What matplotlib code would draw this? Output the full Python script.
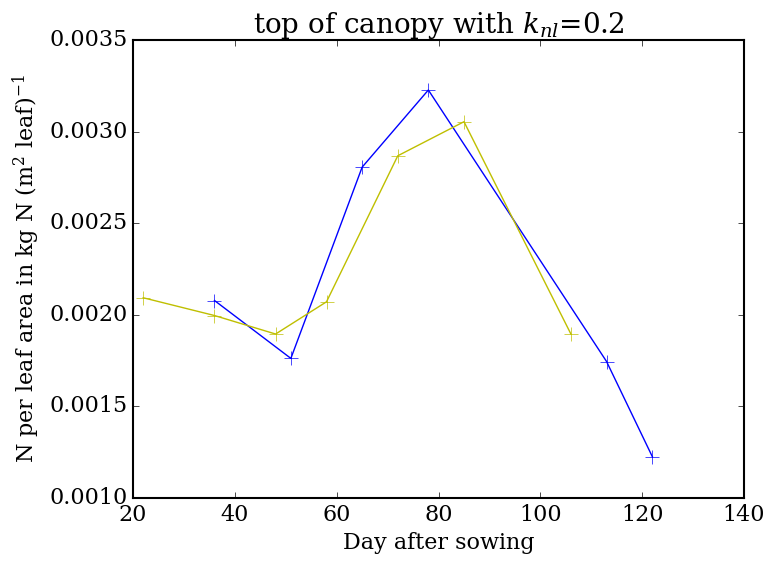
import matplotlib
matplotlib.use("Agg")
import matplotlib.pyplot as plt

plt.style.use("classic")
plt.rcParams["font.family"] = "DejaVu Serif"
plt.rcParams["mathtext.fontset"] = "dejavuserif"

# Measured N per leaf area at the top of the canopy
days_blue = [36, 51, 65, 78, 113, 122]
n_blue = [0.002078, 0.001762, 0.002806, 0.003227, 0.001745, 0.001225]

days_yellow = [22, 36, 48, 58, 72, 85, 106]
n_yellow = [0.002093, 0.001996, 0.001895, 0.002071, 0.002868, 0.003054, 0.001895]

x_ticks = [20, 40, 60, 80, 100, 120, 140]
y_ticks = [0.0010, 0.0015, 0.0020, 0.0025, 0.0030, 0.0035]

fig = plt.figure(figsize=(7.68, 5.65), dpi=100, facecolor="white")
ax = fig.add_axes([0.1732, 0.1186, 0.7956, 0.8106])

ax.plot(days_blue, n_blue, color="b", marker="+", markersize=10, linewidth=1)
ax.plot(days_yellow, n_yellow, color="y", marker="+", markersize=10, linewidth=1)

ax.set_xlim(20, 140)
ax.set_ylim(0.0010, 0.0035)
ax.set_xticks(x_ticks)
ax.set_yticks(y_ticks)
ax.set_yticklabels([f"{v:.4f}" for v in y_ticks])
ax.tick_params(labelsize=16)
for spine in ax.spines.values():
    spine.set_linewidth(1.5)

ax.set_xlabel("Day after sowing", fontsize=16)
ax.set_ylabel(r"N per leaf area in kg N (m$^2$ leaf)$^{-1}$", fontsize=16)
ax.set_title(r"top of canopy with $k_{nl}$=0.2", fontsize=20)

fig.savefig("out.png", dpi=100, facecolor="white")
